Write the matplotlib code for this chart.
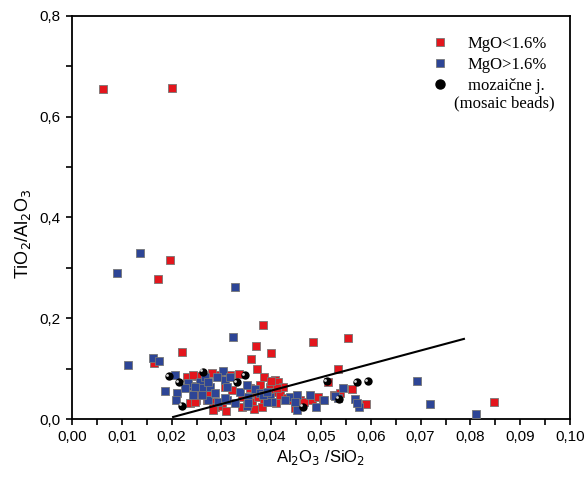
import matplotlib
matplotlib.use("Agg")
import matplotlib.pyplot as plt
import matplotlib.transforms as mtransforms
from matplotlib.lines import Line2D
from matplotlib.ticker import MultipleLocator, FuncFormatter

# samples with MgO < 1.6 %
red_x = [0.0062, 0.0201, 0.0197, 0.0173, 0.0221, 0.0384, 0.0369, 0.0400, 0.0359,
         0.0484, 0.0554, 0.0371, 0.0386, 0.0534, 0.0847, 0.0590, 0.0251, 0.0237,
         0.0249, 0.0271, 0.0283, 0.0287, 0.0295, 0.0307, 0.0301, 0.0321, 0.0335,
         0.0341, 0.0357, 0.0361, 0.0369, 0.0373, 0.0386, 0.0365, 0.0378, 0.0398,
         0.0404, 0.0408, 0.0414, 0.0424, 0.0418, 0.0432, 0.0444, 0.0448, 0.0458,
         0.0466, 0.0482, 0.0494, 0.0514, 0.0526, 0.0562, 0.0538, 0.0412, 0.0410,
         0.0504, 0.0231, 0.0243, 0.0317, 0.0281, 0.0247, 0.0283, 0.0309, 0.0341,
         0.0382, 0.0271, 0.0257, 0.0400, 0.0165]
red_y = [0.655, 0.657, 0.316, 0.278, 0.133, 0.187, 0.145, 0.131, 0.119,
         0.153, 0.161, 0.099, 0.083, 0.099, 0.034, 0.030, 0.085, 0.032,
         0.038, 0.048, 0.034, 0.024, 0.087, 0.064, 0.026, 0.058, 0.089,
         0.044, 0.062, 0.034, 0.052, 0.044, 0.034, 0.020, 0.067, 0.064,
         0.054, 0.077, 0.073, 0.064, 0.048, 0.042, 0.038, 0.022, 0.038,
         0.034, 0.038, 0.044, 0.073, 0.048, 0.060, 0.052, 0.062, 0.032,
         0.038, 0.083, 0.087, 0.087, 0.091, 0.034, 0.018, 0.016, 0.024,
         0.024, 0.038, 0.052, 0.075, 0.111]

# samples with MgO > 1.6 %
blue_x = [0.0137, 0.0090, 0.0327, 0.0323, 0.0112, 0.0163, 0.0175, 0.0693, 0.0719,
          0.0811, 0.0187, 0.0211, 0.0207, 0.0209, 0.0241, 0.0243, 0.0257, 0.0261,
          0.0267, 0.0277, 0.0273, 0.0287, 0.0303, 0.0307, 0.0311, 0.0317, 0.0337,
          0.0351, 0.0353, 0.0367, 0.0378, 0.0351, 0.0398, 0.0438, 0.0452, 0.0452,
          0.0478, 0.0490, 0.0506, 0.0534, 0.0544, 0.0568, 0.0576, 0.0572, 0.0402,
          0.0448, 0.0428, 0.0233, 0.0247, 0.0273, 0.0291, 0.0311, 0.0293, 0.0327,
          0.0353, 0.0392, 0.0261, 0.0307, 0.0384, 0.0392, 0.0528, 0.0227]
blue_y = [0.330, 0.290, 0.262, 0.163, 0.107, 0.121, 0.115, 0.075, 0.030,
          0.010, 0.056, 0.052, 0.087, 0.038, 0.066, 0.048, 0.073, 0.062,
          0.083, 0.064, 0.038, 0.052, 0.095, 0.077, 0.038, 0.083, 0.054,
          0.067, 0.044, 0.060, 0.052, 0.026, 0.044, 0.044, 0.048, 0.018,
          0.048, 0.024, 0.038, 0.042, 0.062, 0.040, 0.024, 0.032, 0.034,
          0.034, 0.038, 0.071, 0.064, 0.073, 0.083, 0.064, 0.034, 0.032,
          0.032, 0.034, 0.048, 0.042, 0.048, 0.054, 0.046, 0.062]

# mosaic beads
bead_x = [0.0195, 0.0215, 0.0221, 0.0263, 0.0331, 0.0347, 0.0464, 0.0512, 0.0536,
          0.0572, 0.0594]
bead_y = [0.085, 0.073, 0.026, 0.093, 0.073, 0.087, 0.024, 0.075, 0.040,
          0.073, 0.075]

# trend line end points
line_x = [0.0203, 0.0787]
line_y = [0.004, 0.159]

red = "#e3161d"
blue = "#2d4596"

plt.rcParams["font.family"] = ["Liberation Sans", "DejaVu Sans"]
serif = {"family": ["Liberation Serif", "DejaVu Serif"], "size": 12}

fig = plt.figure(figsize=(5.86, 4.83), dpi=100)
ax = fig.add_axes([0.1229, 0.1325, 0.8498, 0.8344])

ax.scatter(red_x, red_y, s=30, marker="s", c=red, edgecolors="#777777",
           linewidths=0.6, zorder=3)
ax.scatter(blue_x, blue_y, s=30, marker="s", c=blue, edgecolors="#777777",
           linewidths=0.6, zorder=3)
ax.scatter(bead_x, bead_y, s=36, marker="o", c="black", linewidths=0, zorder=4)
# little highlight on each bead
hl = mtransforms.offset_copy(ax.transData, fig=fig, x=-1.2, y=1.2, units="points")
ax.scatter(bead_x, bead_y, s=4, marker="o", c="#d8d8d8", linewidths=0,
           transform=hl, zorder=5)

ax.plot(line_x, line_y, color="black", lw=1.5, zorder=5)

ax.set_xlim(0, 0.10)
ax.set_ylim(0, 0.8)
ax.xaxis.set_major_locator(MultipleLocator(0.01))
ax.xaxis.set_minor_locator(MultipleLocator(0.005))
ax.yaxis.set_major_locator(MultipleLocator(0.2))
ax.yaxis.set_minor_locator(MultipleLocator(0.1))
ax.xaxis.set_major_formatter(FuncFormatter(lambda v, p: f"{v:.2f}".replace(".", ",")))
ax.yaxis.set_major_formatter(FuncFormatter(lambda v, p: f"{v:.1f}".replace(".", ",")))
ax.tick_params(which="both", direction="out", length=4.5, width=1.2,
               labelsize=11, top=False, right=False)
for sp in ax.spines.values():
    sp.set_linewidth(1.3)

ax.set_xlabel(r"Al$_2$O$_3$ /SiO$_2$", fontsize=12, labelpad=3)
ax.set_ylabel(r"TiO$_2$/Al$_2$O$_3$", fontsize=13, labelpad=5)
ax.yaxis.label.set_y(0.46)

handles = [
    Line2D([], [], ls="none", marker="s", ms=5.5, mfc=red, mec="#777777", mew=0.6),
    Line2D([], [], ls="none", marker="s", ms=5.5, mfc=blue, mec="#777777", mew=0.6),
    Line2D([], [], ls="none", marker="o", ms=6.5, mfc="black", mec="black"),
]
labels = ["MgO<1.6%", "MgO>1.6%", "mozaične j."]
ax.legend(handles, labels, loc="upper left", bbox_to_anchor=(0.693, 0.988),
          frameon=False, handlelength=1.0, handletextpad=1.15,
          labelspacing=0.3, prop=serif)
ax.text(0.868, 0.782, "(mosaic beads)", transform=ax.transAxes,
        ha="center", va="center", fontdict=serif)

fig.savefig("out.png", dpi=100)
